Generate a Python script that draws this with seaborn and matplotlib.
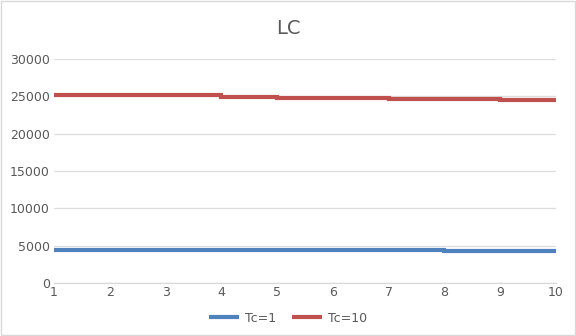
import matplotlib
matplotlib.use("Agg")
import matplotlib.pyplot as plt
from matplotlib.lines import Line2D
import seaborn as sns
import pandas as pd

# LC values per step for the two Tc settings
steps = [1, 2, 3, 4, 5, 6, 7, 8, 9, 10]
lc_tc1 = [4380, 4380, 4380, 4380, 4380, 4380, 4380, 4250, 4250, 4250]
lc_tc10 = [25210, 25120, 25120, 24970, 24840, 24840, 24700, 24700, 24570, 24570]
series_names = ["Tc=1", "Tc=10"]
y_ticks = [0, 5000, 10000, 15000, 20000, 25000, 30000]

df = pd.DataFrame({
    "step": steps * 2,
    "LC": lc_tc1 + lc_tc10,
    "series": [series_names[0]] * len(steps) + [series_names[1]] * len(steps),
})

sns.set_theme(style="white")
plt.rcParams["font.family"] = ["DejaVu Sans"]

fig = plt.figure(figsize=(5.76, 3.36), dpi=100)
ax = fig.add_axes([54 / 576, 1 - 283 / 336, (556 - 54) / 576, (283 - 59) / 336])

palette = {"Tc=1": "#4F81BD", "Tc=10": "#C0504D"}
sns.lineplot(data=df, x="step", y="LC", hue="series", palette=palette,
             drawstyle="steps-post", linewidth=3.0, ax=ax, legend=False,
             zorder=3, solid_capstyle="butt", solid_joinstyle="miter")

ax.set_xlim(1, 10)
ax.set_ylim(0, 30000)
ax.set_yticks(y_ticks)
ax.set_xticks(steps)
ax.yaxis.grid(True, color="#DDDDDD", linewidth=0.9, zorder=0)
ax.xaxis.grid(False)
for side in ["left", "right", "top"]:
    ax.spines[side].set_visible(False)
ax.spines["bottom"].set_color("#D9D9D9")
ax.spines["bottom"].set_linewidth(0.9)
ax.tick_params(axis="both", colors="#595959", labelsize=9, length=0, pad=3)
ax.tick_params(axis="x", pad=2)
ax.set_xlabel("")
ax.set_ylabel("")

fig.text(0.5, 1 - 28 / 336, "LC", ha="center", va="center",
         fontsize=14, color="#595959")

# legend below the plot
handles = [Line2D([0], [0], color=palette[n], linewidth=3.0, solid_capstyle="butt")
           for n in series_names]
fig.legend(handles, series_names, loc="center", bbox_to_anchor=(0.5, 1 - 318 / 336),
           ncol=2, frameon=False, fontsize=9, labelcolor="#595959",
           handlelength=2.4, columnspacing=1.2, handletextpad=0.5)

# chart area border
fig.patches.append(plt.Rectangle((0.002, 0.003), 0.996, 0.994, transform=fig.transFigure,
                                 fill=False, edgecolor="#D9D9D9", linewidth=1.0))

fig.savefig("out.png", dpi=100)
